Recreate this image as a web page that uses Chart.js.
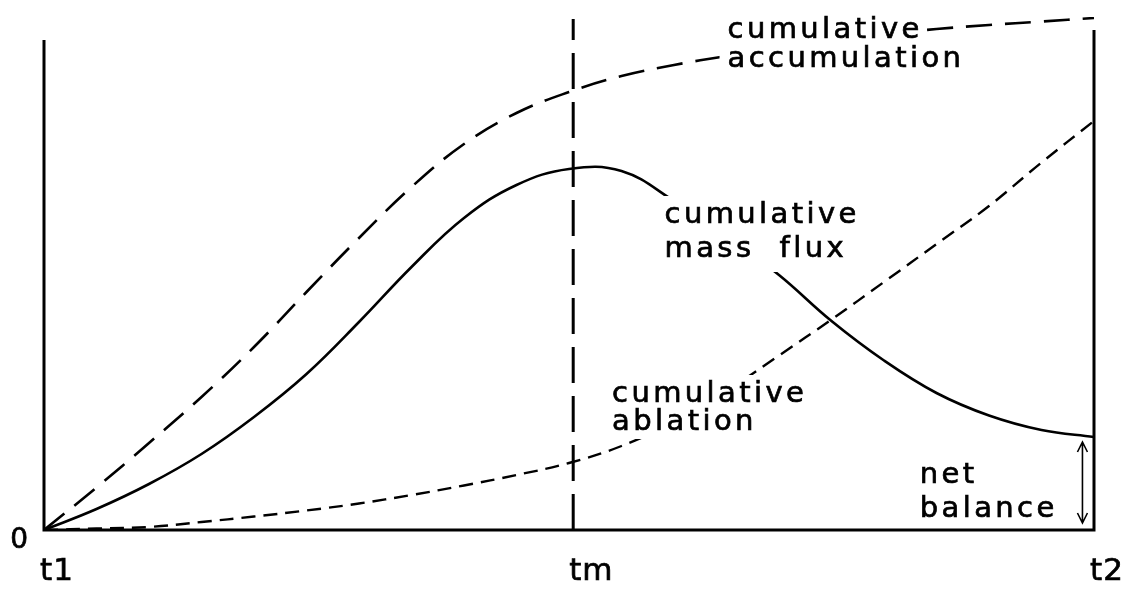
<!DOCTYPE html>
<html>
<head>
<meta charset="utf-8">
<script src="https://cdn.jsdelivr.net/npm/chart.js@4"></script>
<style>
  html, body { margin: 0; padding: 0; background: #fff; }
  #wrap { width: 1133px; height: 592px; position: relative; }
</style>
</head>
<body>
<div id="wrap"><canvas id="chart"></canvas></div>
<script>
// time runs from t1 (0) to t2 (100), mass in arbitrary units
const timeSteps = [0, 5, 10, 15, 20, 25, 30, 35, 40, 45, 50, 55, 60, 65, 70, 75, 80, 85, 90, 95, 100];
const accumulation = [0, 8.5, 17.4, 26.6, 36.6, 47.6, 58.4, 68.6, 77.2, 83.4, 87.6, 90.8, 93.0, 94.8, 96.5, 97.9, 99.1, 100.2, 101.0, 101.7, 102.4];
const massFlux     = [0, 4.2, 9.2, 15.2, 22.6, 31.2, 41.6, 52.6, 62.4, 69.0, 72.2, 71.8, 65.8, 58.8, 51.0, 41.8, 33.9, 27.4, 22.9, 20.0, 18.6];
const ablation     = [0, 0.3, 0.6, 1.6, 2.7, 3.9, 5.3, 7.0, 8.9, 11.0, 13.4, 16.8, 21.6, 27.8, 34.9, 42.1, 49.6, 57.2, 64.8, 73.5, 81.8];

const tickValues = [0, 50.4, 100];
const tickLabels = ['t1', 'tm', 't2'];
const yTickValues = [0];
const yTickLabels = ['0'];

const curveLabels = [
    ['cumulative', 'accumulation'],
    ['cumulative', 'mass  flux'],
    ['cumulative', 'ablation'],
    ['net', 'balance']
];
const labelAnchors = [[65.1, 98.4], [59.1, 61.4], [54.1, 25.6], [83.4, 9.4]];
const lineSteps = [29, 34, 28, 34];

const leftAxisTop = 98;
const rightAxisTop = 100;
const balanceX = 98.9;

const FONT = '"DejaVu Sans", sans-serif';

function toPoints(xs, ys) {
    return xs.map((v, i) => ({ x: v, y: ys[i] }));
}

function inkText(ctx, t, x, y) {
    ctx.fillText(t, x, y);
    ctx.strokeText(t, x, y);
}

const sketchPlugin = {
    id: 'sketch',
    afterDatasetsDraw(chart) {
        const { ctx, scales: { x, y } } = chart;
        const px = v => x.getPixelForValue(v);
        const py = v => y.getPixelForValue(v);
        ctx.save();
        ctx.strokeStyle = '#000';

        // curve labels, knocked out of the lines
        ctx.font = '29px ' + FONT;
        ctx.letterSpacing = '3.4px';
        ctx.textAlign = 'left';
        ctx.textBaseline = 'alphabetic';
        ctx.lineWidth = 0.7;
        curveLabels.forEach((lines, i) => {
            const lx = px(labelAnchors[i][0]);
            const ly = py(labelAnchors[i][1]);
            const step = lineSteps[i];
            lines.forEach((t, j) => {
                const w = ctx.measureText(t).width;
                const by = ly + j * step;
                ctx.fillStyle = '#fff';
                ctx.fillRect(lx - 8, by - 27, w + 12, step + 8);
            });
            ctx.fillStyle = '#000';
            lines.forEach((t, j) => inkText(ctx, t, lx, ly + j * step));
        });

        // frame
        ctx.lineWidth = 3;
        ctx.beginPath();
        ctx.moveTo(px(0), py(leftAxisTop));
        ctx.lineTo(px(0), py(0));
        ctx.lineTo(px(100), py(0));
        ctx.lineTo(px(100), py(rightAxisTop));
        ctx.stroke();

        // net balance arrow
        const ax = px(balanceX);
        const aTop = py(massFlux[massFlux.length - 1]) + 5;
        const aBot = py(0) - 7;
        ctx.lineWidth = 1.6;
        ctx.beginPath();
        ctx.moveTo(ax, aTop); ctx.lineTo(ax, aBot);
        ctx.moveTo(ax - 5, aTop + 10); ctx.lineTo(ax, aTop); ctx.lineTo(ax + 5, aTop + 10);
        ctx.moveTo(ax - 5, aBot - 10); ctx.lineTo(ax, aBot); ctx.lineTo(ax + 5, aBot - 10);
        ctx.stroke();

        // axis tick labels
        ctx.lineWidth = 0.7;
        ctx.letterSpacing = '1px';
        ctx.font = '31px ' + FONT;
        tickValues.forEach((v, i) => {
            inkText(ctx, tickLabels[i], px(v) - 4, py(0) + 50);
        });
        ctx.font = '28px ' + FONT;
        ctx.textAlign = 'right';
        yTickValues.forEach((v, i) => {
            inkText(ctx, yTickLabels[i], px(0) - 15, py(v) + 18);
        });

        ctx.restore();
    }
};

new Chart(document.getElementById('chart'), {
    type: 'line',
    data: {
        datasets: [
            {
                label: 'cumulative accumulation',
                data: toPoints(timeSteps, accumulation),
                borderColor: '#000',
                borderWidth: 2.6,
                borderDash: [26, 13],
                tension: 0.4
            },
            {
                label: 'cumulative mass flux',
                data: toPoints(timeSteps, massFlux),
                borderColor: '#000',
                borderWidth: 2.6,
                tension: 0.4
            },
            {
                label: 'cumulative ablation',
                data: toPoints(timeSteps, ablation),
                borderColor: '#000',
                borderWidth: 2.4,
                borderDash: [14, 8],
                tension: 0.4
            },
            {
                label: 'tm',
                data: toPoints([tickValues[1], tickValues[1]], [0, 102.2]),
                borderColor: '#000',
                borderWidth: 3,
                borderDash: [36, 13]
            }
        ]
    },
    options: {
        responsive: true,
        maintainAspectRatio: false,
        animation: false,
        layout: { padding: { left: 44, right: 39, top: 17, bottom: 62 } },
        elements: { point: { radius: 0 } },
        scales: {
            x: { type: 'linear', min: 0, max: 100, display: false },
            y: { type: 'linear', min: 0, max: 102.6, display: false }
        },
        plugins: {
            legend: { display: false },
            tooltip: { enabled: false }
        }
    },
    plugins: [sketchPlugin]
});
</script>
</body>
</html>
